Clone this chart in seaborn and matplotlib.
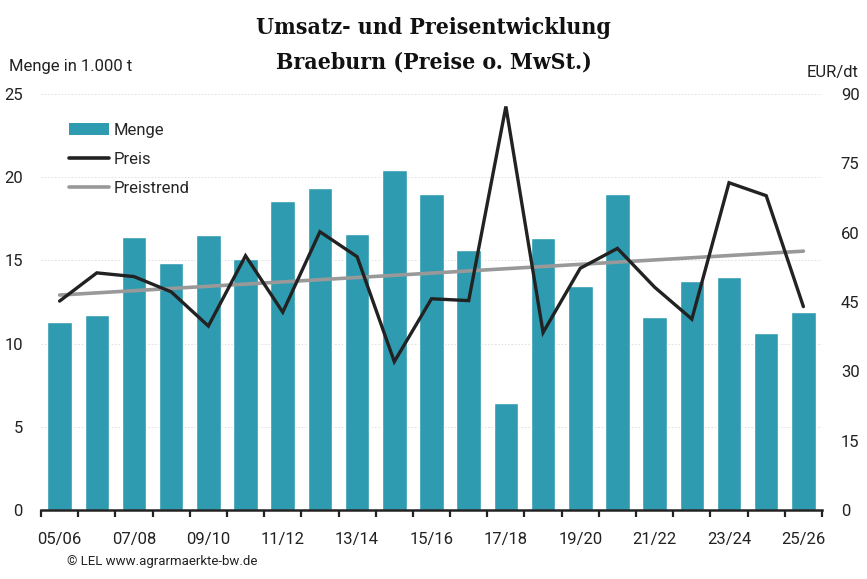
import numpy as np
import pandas as pd
import matplotlib
matplotlib.use("Agg")
import matplotlib.pyplot as plt
from matplotlib.patches import Patch
from matplotlib.lines import Line2D
import seaborn as sns

# ---- data ----
seasons = ["05/06", "06/07", "07/08", "08/09", "09/10", "10/11", "11/12", "12/13",
           "13/14", "14/15", "15/16", "16/17", "17/18", "18/19", "19/20", "20/21",
           "21/22", "22/23", "23/24", "24/25", "25/26"]
menge = [11.3, 11.7, 16.4, 14.85, 16.5, 15.1, 18.55, 19.35, 16.6, 20.45, 19.0,
         15.65, 6.45, 16.35, 13.45, 19.0, 11.6, 13.75, 14.0, 10.65, 11.9]
preis = [45.2, 51.3, 50.5, 47.2, 39.8, 55.0, 42.8, 60.2, 54.8, 32.1, 45.7,
         45.3, 87.3, 38.4, 52.3, 56.6, 48.2, 41.3, 70.8, 68.0, 44.0]
trend_ends = [46.5, 56.0]   # Preistrend at first and last season
left_ticks = [0, 5, 10, 15, 20, 25]
right_ticks = [0, 15, 30, 45, 60, 75, 90]
title_lines = ["Umsatz- und Preisentwicklung", "Braeburn (Preise o. MwSt.)"]

BAR = "#2F9BB0"
LINE = "#222222"
TREND = "#999999"

sns.set_theme(style="white")
plt.rcParams["font.family"] = ["Roboto", "DejaVu Sans"]

W, H = 867, 579
fig = plt.figure(figsize=(W / 100, H / 100), dpi=100)
ax = fig.add_axes([41 / W, (H - 510) / H, 781 / W, 416 / H])

df = pd.DataFrame({"season": seasons, "menge": menge})
sns.barplot(data=df, x="season", y="menge", color=BAR, saturation=1,
            width=0.66, ax=ax, zorder=2)
ax.set_xlim(-0.5, len(seasons) - 0.5)
ax.set_ylim(0, 25)
ax.set_xlabel("")
ax.set_ylabel("")

# grid
ax.set_yticks(left_ticks)
ax.yaxis.grid(True, color="#dcdcdc", linestyle=(0, (2, 2)), linewidth=0.6, zorder=0)
ax.set_axisbelow(True)
ax.tick_params(axis="y", length=0, pad=13, labelsize=12, labelcolor="#222222")

# x ticks: boundary marks + labels on every other season
idx = np.arange(len(seasons))
ax.set_xticks(np.arange(-0.5, len(seasons), 1))
ax.set_xticklabels([])
ax.tick_params(axis="x", which="major", length=5, width=1.6, color="#222222",
               direction="out", bottom=True)
ax.set_xticks(idx[::2], minor=True)
ax.set_xticklabels([seasons[i] for i in idx[::2]], minor=True)
ax.tick_params(axis="x", which="minor", length=0, pad=16, labelsize=12,
               labelcolor="#222222")

for s in ["top", "right", "left"]:
    ax.spines[s].set_visible(False)
ax.spines["bottom"].set_color("#222222")
ax.spines["bottom"].set_linewidth(1.8)
ax.spines["bottom"].set_zorder(5)

# price axis
ax2 = ax.twinx()
sns.lineplot(x=idx, y=preis, color=LINE, linewidth=2.4, ax=ax2, zorder=4,
             solid_joinstyle="miter")
sns.lineplot(x=[idx[0], idx[-1]], y=trend_ends, color=TREND, linewidth=2.6,
             ax=ax2, zorder=3, solid_capstyle="round")
ax2.set_ylim(0, 90)
ax2.set_yticks(right_ticks)
ax2.tick_params(axis="y", length=0, pad=13.5, labelsize=12, labelcolor="#222222")
for s in ["top", "right", "left", "bottom"]:
    ax2.spines[s].set_visible(False)
ax2.set_ylabel("")

# legend
handles = [Patch(facecolor=BAR, edgecolor="none"),
           Line2D([], [], color=LINE, linewidth=2.6, solid_capstyle="round"),
           Line2D([], [], color=TREND, linewidth=2.6, solid_capstyle="round")]
ax2.legend(handles, ["Menge", "Preis", "Preistrend"], loc="upper left",
           bbox_to_anchor=(69 / W, (H - 123) / H), bbox_transform=fig.transFigure,
           frameon=False, fontsize=12, handlelength=2.4, handletextpad=0.3,
           labelspacing=0.85, borderpad=0, borderaxespad=0)

# titles and axis captions
for line, yc in zip(title_lines, [28, 62]):
    fig.text(0.5, (H - yc) / H, line, ha="center", va="center",
             family=["DejaVu Serif", "Liberation Serif"], fontweight="bold",
             fontstretch="condensed", fontsize=16.5, color="#111111")
fig.text(9 / W, (H - 66) / H, "Menge in 1.000 t", ha="left", va="center",
         fontsize=12, color="#222222")
fig.text(859 / W, (H - 72) / H, "EUR/dt", ha="right", va="center",
         fontsize=12, color="#222222")
fig.text(67 / W, (H - 562) / H, "© LEL www.agrarmaerkte-bw.de", ha="left",
         va="center", fontsize=9.5, color="#222222")

fig.savefig("out.png", dpi=100, facecolor="white", edgecolor="#222222")
